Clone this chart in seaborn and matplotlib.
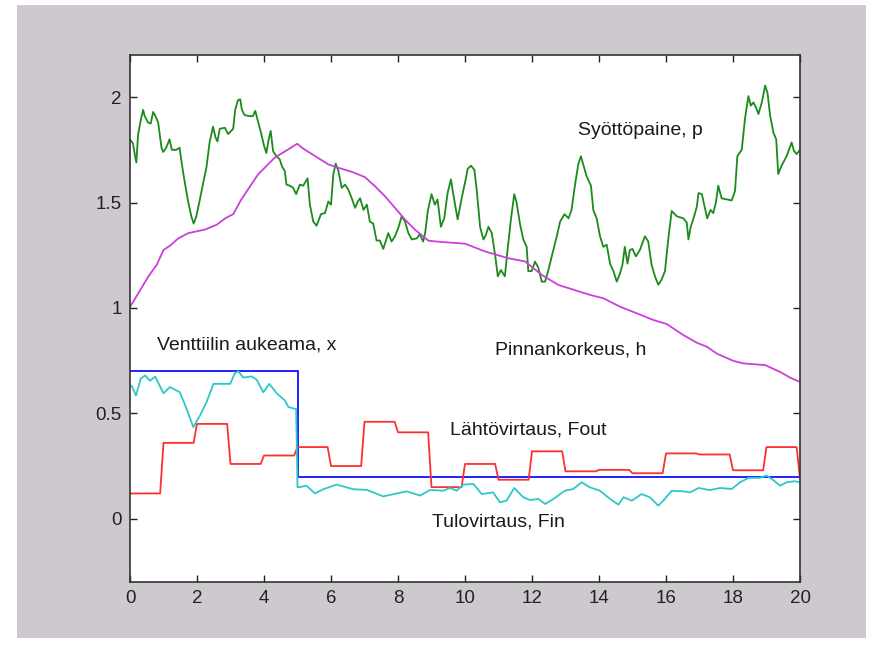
import numpy as np
import pandas as pd
import seaborn as sns
import matplotlib
matplotlib.use("Agg")
import matplotlib.pyplot as plt
from matplotlib.patches import Rectangle

# --- data ---
# Syöttöpaine p (green)
p_t = [0.0, 0.09, 0.14, 0.19, 0.24, 0.32, 0.39, 0.44, 0.54, 0.62, 0.69, 0.76, 0.84, 0.94, 0.99,
       1.08, 1.18, 1.25, 1.38, 1.48, 1.55, 1.63, 1.73, 1.83, 1.90, 1.98, 2.08, 2.18, 2.28, 2.38,
       2.48, 2.55, 2.61, 2.68, 2.83, 2.93, 3.08, 3.14, 3.22, 3.29, 3.34, 3.42, 3.57, 3.67, 3.74,
       3.82, 3.92, 4.0, 4.07, 4.14, 4.20, 4.27, 4.37, 4.47, 4.54, 4.62, 4.67, 4.77, 4.87, 4.96,
       5.07, 5.17, 5.30, 5.37, 5.47, 5.57, 5.70, 5.82, 5.92, 6.0, 6.07, 6.14, 6.22, 6.32, 6.42,
       6.52, 6.62, 6.72, 6.80, 6.87, 6.97, 7.07, 7.16, 7.26, 7.36, 7.46, 7.56, 7.63, 7.71, 7.81,
       7.91, 8.01, 8.11, 8.21, 8.31, 8.41, 8.56, 8.65, 8.75, 8.81, 8.89, 9.0, 9.10, 9.18, 9.28,
       9.38, 9.48, 9.58, 9.65, 9.78, 9.90, 10.02, 10.08, 10.18, 10.28, 10.35, 10.45, 10.55, 10.62,
       10.70, 10.80, 10.90, 10.98, 11.07, 11.19, 11.27, 11.37, 11.47, 11.54, 11.64, 11.74, 11.84,
       11.89, 11.99, 12.09, 12.19, 12.29, 12.39, 12.49, 12.59, 12.74, 12.84, 12.97, 13.09, 13.18,
       13.28, 13.38, 13.46, 13.53, 13.63, 13.76, 13.83, 13.93, 14.03, 14.13, 14.23, 14.33, 14.43,
       14.53, 14.63, 14.70, 14.77, 14.85, 14.92, 15.00, 15.10, 15.22, 15.37, 15.47, 15.57, 15.67,
       15.77, 15.87, 15.97, 16.07, 16.17, 16.32, 16.52, 16.62, 16.67, 16.74, 16.84, 16.92, 16.97,
       17.07, 17.16, 17.23, 17.33, 17.41, 17.49, 17.56, 17.66, 17.81, 17.96, 18.06, 18.13, 18.26,
       18.36, 18.46, 18.53, 18.61, 18.69, 18.76, 18.86, 18.96, 19.03, 19.11, 19.21, 19.29, 19.35,
       19.45, 19.60, 19.75, 19.82, 19.90, 20.0]
p_v = [1.80, 1.78, 1.73, 1.69, 1.82, 1.89, 1.94, 1.91, 1.88, 1.875, 1.93, 1.91, 1.88, 1.76, 1.74,
       1.76, 1.80, 1.75, 1.75, 1.76, 1.68, 1.60, 1.51, 1.435, 1.40, 1.435, 1.51, 1.59, 1.665, 1.79,
       1.86, 1.81, 1.79, 1.85, 1.855, 1.825, 1.85, 1.94, 1.985, 1.99, 1.94, 1.915, 1.91, 1.91, 1.935,
       1.885, 1.825, 1.77, 1.735, 1.80, 1.84, 1.745, 1.72, 1.705, 1.67, 1.65, 1.585, 1.58, 1.57, 1.54,
       1.585, 1.58, 1.615, 1.49, 1.41, 1.39, 1.445, 1.45, 1.505, 1.49, 1.635, 1.685, 1.65, 1.57, 1.585,
       1.56, 1.52, 1.475, 1.505, 1.52, 1.465, 1.49, 1.41, 1.40, 1.32, 1.32, 1.28, 1.315, 1.355, 1.315,
       1.34, 1.38, 1.435, 1.41, 1.355, 1.325, 1.33, 1.35, 1.315, 1.355, 1.46, 1.54, 1.49, 1.515, 1.385,
       1.425, 1.545, 1.61, 1.54, 1.42, 1.52, 1.61, 1.66, 1.675, 1.655, 1.56, 1.385, 1.325, 1.345,
       1.385, 1.355, 1.25, 1.15, 1.18, 1.15, 1.275, 1.42, 1.54, 1.50, 1.40, 1.325, 1.29,
       1.175, 1.175, 1.22, 1.19, 1.125, 1.125, 1.18, 1.245, 1.34, 1.41, 1.445, 1.425, 1.465,
       1.58, 1.68, 1.72, 1.68, 1.625, 1.58, 1.465, 1.425, 1.34, 1.29, 1.30, 1.21, 1.175,
       1.125, 1.165, 1.205, 1.29, 1.21, 1.275, 1.28, 1.245, 1.275, 1.34, 1.315, 1.205, 1.15,
       1.11, 1.135, 1.175, 1.33, 1.46, 1.435, 1.425, 1.405, 1.325, 1.385, 1.435, 1.48, 1.545,
       1.54, 1.475, 1.425, 1.465, 1.45, 1.50, 1.58, 1.52, 1.515, 1.51, 1.555, 1.72, 1.75,
       1.90, 2.005, 1.96, 1.975, 1.95, 1.92, 1.975, 2.055, 2.02, 1.91, 1.83, 1.80, 1.635,
       1.675, 1.72, 1.785, 1.745, 1.73, 1.75]

# Pinnankorkeus h (magenta)
h_t = [0.0, 0.25, 0.55, 0.80, 1.0, 1.19, 1.44, 1.74, 2.24, 2.59, 2.84, 3.08, 3.32, 3.82, 4.32,
       4.72, 4.99, 5.16, 5.52, 5.92, 6.22, 6.62, 7.01, 7.31, 7.61, 7.91, 8.21, 8.51, 8.91, 9.30,
       10.0, 10.6, 11.29, 11.79, 12.29, 12.79, 13.09, 13.73, 14.13, 14.63, 15.12, 15.62, 16.02,
       16.52, 16.92, 17.22, 17.51, 18.01, 18.31, 18.96, 19.40, 19.70, 20.0]
h_v = [1.005, 1.07, 1.15, 1.205, 1.275, 1.295, 1.33, 1.355, 1.372, 1.395, 1.425, 1.445, 1.514,
       1.633, 1.713, 1.752, 1.779, 1.757, 1.721, 1.681, 1.665, 1.646, 1.621, 1.578, 1.530, 1.475,
       1.419, 1.371, 1.319, 1.313, 1.305, 1.268, 1.236, 1.221, 1.157, 1.109, 1.094, 1.062, 1.046,
       1.006, 0.975, 0.943, 0.924, 0.871, 0.835, 0.816, 0.784, 0.749, 0.737, 0.729, 0.697, 0.670,
       0.649]

# Venttiilin aukeama x (blue), step changes
x_t = [0, 5, 20]
x_v = [0.7, 0.2, 0.2]

# Lähtövirtaus Fout (red), one level per second (last = value at t=20)
fout_levels = [0.12, 0.36, 0.45, 0.26, 0.30, 0.34, 0.25, 0.46, 0.41, 0.15,
               0.26, 0.185, 0.32, 0.225, 0.232, 0.216, 0.31, 0.305, 0.23, 0.34, 0.19]

# Tulovirtaus Fin (cyan)
fin_t = [0.0, 0.05, 0.18, 0.32, 0.45, 0.60, 0.75, 1.0, 1.19, 1.49, 1.69, 1.89, 2.09, 2.29, 2.49,
         2.69, 2.99, 3.13, 3.23, 3.38, 3.63, 3.78, 3.98, 4.16, 4.38, 4.63, 4.73, 4.96, 5.0, 5.07,
         5.27, 5.52, 5.77, 6.17, 6.67, 7.07, 7.56, 7.96, 8.26, 8.66, 8.96, 9.35, 9.55, 9.75, 9.95,
         10.25, 10.5, 10.84, 11.04, 11.24, 11.47, 11.74, 11.94, 12.19, 12.39, 12.64, 12.98, 13.23,
         13.48, 13.73, 14.03, 14.33, 14.58, 14.73, 14.98, 15.27, 15.52, 15.77, 15.92, 16.17, 16.52,
         16.72, 16.97, 17.31, 17.61, 17.96, 18.21, 18.46, 18.80, 19.0, 19.2, 19.4, 19.6, 19.85, 20.0]
fin_v = [0.63, 0.63, 0.585, 0.665, 0.68, 0.655, 0.675, 0.595, 0.625, 0.60, 0.52, 0.435, 0.49,
         0.555, 0.64, 0.64, 0.64, 0.69, 0.70, 0.67, 0.675, 0.66, 0.60, 0.64, 0.595, 0.56, 0.53,
         0.52, 0.15, 0.15, 0.157, 0.12, 0.14, 0.162, 0.14, 0.137, 0.106, 0.12, 0.13, 0.11, 0.137,
         0.133, 0.146, 0.133, 0.162, 0.165, 0.117, 0.125, 0.078, 0.086, 0.146, 0.102, 0.089, 0.094,
         0.07, 0.094, 0.133, 0.141, 0.173, 0.149, 0.133, 0.094, 0.067, 0.102, 0.086, 0.117, 0.102,
         0.062, 0.086, 0.133, 0.13, 0.125, 0.146, 0.136, 0.146, 0.141, 0.173, 0.194, 0.194, 0.205,
         0.184, 0.157, 0.173, 0.178, 0.173]

# sample the Fout levels on the 0.1 s grid
fout_t = np.round(np.arange(0, 20.01, 0.1), 1)
fout_v = np.array(fout_levels)[np.floor(fout_t + 1e-9).astype(int)]

# --- figure ---
sns.set_style("ticks")
plt.rcParams['font.family'] = ['Liberation Sans', 'DejaVu Sans']

fig = plt.figure(figsize=(8.8, 6.48), dpi=100, facecolor="white")
fig.patches.append(Rectangle((17 / 880, 10 / 648), 849 / 880, 633 / 648,
                             transform=fig.transFigure, facecolor="#cec9cf",
                             edgecolor="none", zorder=-1))
ax = fig.add_axes([130 / 880, 66 / 648, 670 / 880, 527 / 648])
ax.set_facecolor("white")

lw = 1.3
sns.lineplot(x=p_t, y=p_v, ax=ax, color="#1c8a1c", lw=lw, sort=False)
sns.lineplot(x=h_t, y=h_v, ax=ax, color="#cc3fdc", lw=lw, sort=False)
sns.lineplot(x=x_t, y=x_v, ax=ax, color="#1010ff", lw=lw, sort=False, drawstyle="steps-post")
sns.lineplot(x=fout_t, y=fout_v, ax=ax, color="#ff2f2f", lw=lw, sort=False)
sns.lineplot(x=fin_t, y=fin_v, ax=ax, color="#2ec8c8", lw=lw, sort=False)

txt = dict(fontsize=14, color="#1a1a1a", va="center", ha="left")
ax.text(13.37, 1.84, "Syöttöpaine, p", **txt)
ax.text(10.9, 0.80, "Pinnankorkeus, h", **txt)
ax.text(0.8, 0.825, "Venttiilin aukeama, x", **txt)
ax.text(9.55, 0.42, "Lähtövirtaus, Fout", **txt)
ax.text(9.0, -0.015, "Tulovirtaus, Fin", **txt)

ax.set_xlim(0, 20)
ax.set_ylim(-0.3, 2.2)
ax.set_xticks(range(0, 21, 2))
ax.set_yticks([0, 0.5, 1, 1.5, 2])
ax.set_yticklabels(["0", "0.5", "1", "1.5", "2"])
ax.tick_params(direction="in", length=5, width=1, top=True, right=True,
               labelsize=13.5, colors="#222222", pad=6)
for s in ax.spines.values():
    s.set_visible(True)
    s.set_color("#333333")
    s.set_linewidth(1.2)

fig.savefig("out.png", dpi=100, facecolor=fig.get_facecolor())
